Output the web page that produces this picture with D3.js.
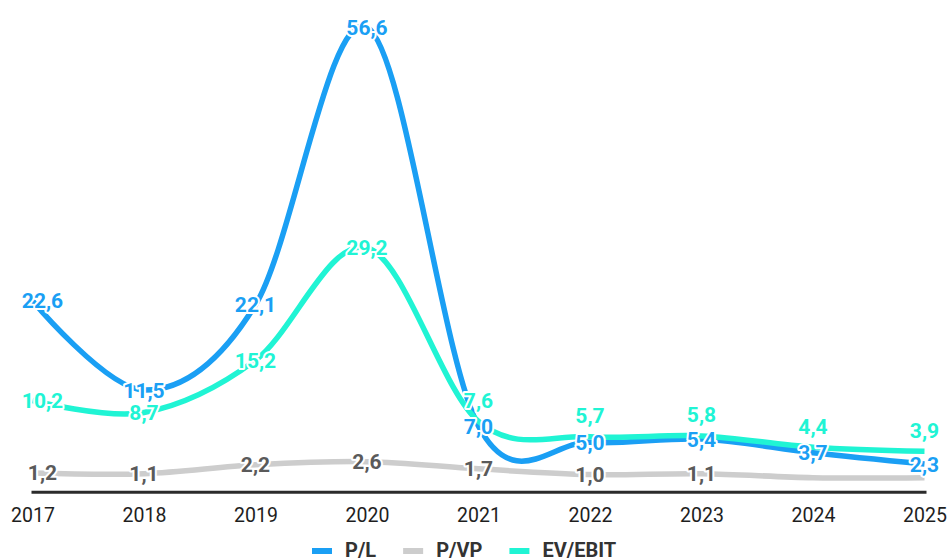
<!DOCTYPE html>
<html>
<head>
<meta charset="utf-8">
<script src="https://cdn.jsdelivr.net/npm/d3@7"></script>
<style>
  html, body { margin: 0; padding: 0; background: #fff; }
  svg { display: block; font-family: Roboto, "Noto Sans", sans-serif; }
</style>
</head>
<body>
<svg id="chart" width="948" height="560"></svg>
<script>
// Valuation multiples per year
const years = ["2017", "2018", "2019", "2020", "2021", "2022", "2023", "2024", "2025"];
const plValues = [22.6, 11.5, 22.1, 56.6, 7.0, 5.0, 5.4, 3.7, 2.3];
const pvpValues = [1.2, 1.1, 2.2, 2.6, 1.7, 1.0, 1.1, 0.6, 0.6];
const evEbitValues = [10.2, 8.7, 15.2, 29.2, 7.6, 5.7, 5.8, 4.4, 3.9];
const seriesNames = ["P/L", "P/VP", "EV/EBIT"];
const seriesColors = ["#1a9ff4", "#cdcdcd", "#20f4d4"];
const labelColors = ["#1a9ff4", "#5a5a5a", "#20f4d4"];

const svg = d3.select("#chart");

const x = d3.scalePoint().domain(years).range([32.5, 924.5]);
const y = d3.scaleLinear().domain([-1.2, 58]).range([492.2, 15.9]);

const fmt = v => d3.format(".1f")(v).replace(".", ",");

const series = [plValues, pvpValues, evEbitValues].map((vals, i) => ({
  name: seriesNames[i],
  color: seriesColors[i],
  labelColor: labelColors[i],
  points: vals.map((v, j) => ({ year: years[j], value: v }))
}));

// x axis: baseline + year labels
const axis = svg.append("g")
  .attr("transform", `translate(0,${y(-1.2)})`)
  .call(d3.axisBottom(x).tickSize(0).tickPadding(0));
axis.select(".domain").attr("stroke", "#2b2b2b").attr("stroke-width", 3)
  .attr("d", `M${x("2017") - 1},0H${x("2025") + 2}`);
axis.selectAll(".tick text")
  .attr("y", 29.5).attr("dy", 0)
  .attr("fill", "#1e1e1e")
  .style("font-family", "Roboto, sans-serif")
  .style("font-size", "19.5px");

// smoothed lines (uniform Catmull-Rom)
const line = d3.line()
  .x(d => x(d.year))
  .y(d => y(d.value))
  .curve(d3.curveCatmullRom.alpha(0));

svg.append("g").selectAll("path")
  .data(series)
  .join("path")
  .attr("d", s => line(s.points))
  .attr("fill", "none")
  .attr("stroke", s => s.color)
  .attr("stroke-width", 5.5);

// value labels: P/L centred on points, EV/EBIT lifted when it sits on a P/L label,
// P/VP hidden when it would collide with a P/L label
const labels = [];
years.forEach((yr, j) => {
  const nudge = j === 0 ? 10 : 0;
  const px = x(yr) + nudge;
  const yPL = y(plValues[j]);
  labels.push({ x: px, y: yPL, text: fmt(plValues[j]), color: labelColors[0] });
  const yEV = y(evEbitValues[j]);
  const lifted = Math.abs(yEV - yPL) < 16;
  labels.push({ x: px, y: lifted ? yEV - 21 : yEV, text: fmt(evEbitValues[j]), color: labelColors[2] });
  const yPV = y(pvpValues[j]);
  if (Math.abs(yPV - yPL) >= 28) {
    labels.push({ x: px, y: yPV, text: fmt(pvpValues[j]), color: labelColors[1] });
  }
});

svg.append("g").selectAll("text")
  .data(labels)
  .join("text")
  .attr("x", d => d.x)
  .attr("y", d => d.y)
  .attr("dy", "0.36em")
  .attr("text-anchor", "middle")
  .attr("fill", d => d.color)
  .attr("stroke", "#fff")
  .attr("stroke-width", 4)
  .attr("stroke-linejoin", "round")
  .attr("paint-order", "stroke")
  .style("font-size", "21px")
  .style("font-weight", "700")
  .text(d => d.text);

// legend
const legend = svg.append("g").attr("transform", "translate(312,0)");
let lx = 0;
series.forEach(s => {
  legend.append("rect")
    .attr("x", lx).attr("y", 548)
    .attr("width", 20).attr("height", 6)
    .attr("fill", s.color);
  const t = legend.append("text")
    .attr("x", lx + 33).attr("y", 556.5)
    .attr("fill", "#333")
    .style("font-size", "20px")
    .style("font-weight", "700")
    .text(s.name);
  lx += 33 + t.node().getComputedTextLength() + 27;
});
</script>
</body>
</html>
